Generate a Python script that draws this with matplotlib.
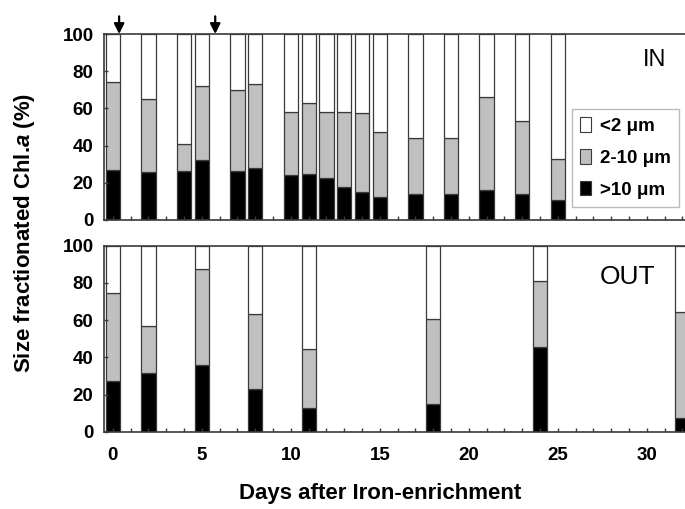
import numpy as np
import matplotlib
matplotlib.use('Agg')
import matplotlib.pyplot as plt
from matplotlib.patches import Patch
from matplotlib.ticker import MultipleLocator

plt.rcParams['font.family'] = ['Liberation Sans', 'DejaVu Sans']
plt.rcParams['mathtext.fontset'] = 'custom'
plt.rcParams['mathtext.it'] = 'Liberation Sans:italic:bold'
plt.rcParams['mathtext.rm'] = 'Liberation Sans:bold'

# Inside patch (days after enrichment, % of Chl.a)
in_days = [0, 2, 4, 5, 7, 8, 10, 11, 12, 13, 14, 15, 17, 19, 21, 23, 25]
in_gt10 = [27, 26, 26.5, 32, 26.5, 28, 24, 25, 22.5, 18, 15, 12.5, 14, 14, 16, 14, 11]
in_2to10 = [47, 39, 14.5, 40, 43.5, 45, 34, 38, 35.5, 40, 42.5, 35, 30, 30, 50, 39, 22]

# Outside patch
out_days = [0, 2, 5, 8, 11, 18, 24, 32]
out_gt10 = [27, 31.5, 36, 23, 12.5, 15, 45.5, 7.5]
out_2to10 = [47.5, 25.5, 51.5, 40.5, 32, 45.5, 35.5, 57]

arrow_days = [0.35, 5.75]

fig = plt.figure(figsize=(6.85, 5.09), dpi=100)
ax1 = fig.add_axes([104/685, 1-220/509, 1-104/685, 186/509])
ax2 = fig.add_axes([104/685, 1-431.7/509, 1-104/685, 186/509])

edge = '#3a3a3a'
bw = 0.8

def draw_bars(ax, days, big, mid):
    big = np.array(big)
    mid = np.array(mid)
    small = 100 - big - mid
    ax.bar(days, big, bw, color='black', edgecolor=edge, linewidth=0.9)
    ax.bar(days, mid, bw, bottom=big, color='#c0c0c0', edgecolor=edge, linewidth=0.9)
    ax.bar(days, small, bw, bottom=big + mid, color='white', edgecolor=edge, linewidth=0.9)
    ax.set_xlim(-0.5, 32.15)
    ax.set_ylim(0, 100)
    ax.set_yticks([0, 20, 40, 60, 80, 100])
    ax.xaxis.set_major_locator(MultipleLocator(5))
    ax.xaxis.set_minor_locator(MultipleLocator(1))
    ax.tick_params(axis='both', which='both', direction='in', length=3, width=1,
                   color=edge, labelsize=13.5)
    ax.tick_params(axis='y', pad=7.5)
    ax.tick_params(axis='x', pad=11)
    ax.tick_params(top=False, right=False)
    for s in ['left', 'top', 'bottom']:
        ax.spines[s].set_color(edge)
        ax.spines[s].set_linewidth(1.2)
    ax.spines['right'].set_visible(False)

draw_bars(ax1, in_days, in_gt10, in_2to10)
draw_bars(ax2, out_days, out_gt10, out_2to10)
ax1.tick_params(labelbottom=False)
for lab in ax2.get_xticklabels() + ax2.get_yticklabels() + ax1.get_yticklabels():
    lab.set_fontweight('bold')

for d in arrow_days:
    ax1.annotate('', xy=(d, 100), xytext=(d, 109.5), annotation_clip=False,
                 arrowprops=dict(arrowstyle='-|>,head_width=0.3,head_length=0.6',
                                 color='black', lw=1.6, shrinkA=0, shrinkB=0))

ax1.text(655/685, 1-60/509, 'IN', transform=fig.transFigure, fontsize=17,
         ha='center', va='center')
ax2.text(628/685, 1-276.7/509, 'OUT', transform=fig.transFigure, fontsize=19,
         ha='center', va='center')

handles = [Patch(facecolor='white', edgecolor=edge, linewidth=0.8),
           Patch(facecolor='#c0c0c0', edgecolor=edge, linewidth=0.8),
           Patch(facecolor='black', edgecolor=edge, linewidth=0.8)]
labels = ['<2 \u03bcm', '2-10 \u03bcm', '>10 \u03bcm']
leg = fig.legend(handles, labels, loc='upper left', bbox_to_anchor=(572/685, 1-109/509),
                 frameon=True, fancybox=False, edgecolor='#bbbbbb', framealpha=1,
                 handlelength=0.55, handleheight=0.8, handletextpad=0.5,
                 labelspacing=0.75, borderpad=0.45, borderaxespad=0,
                 prop={'weight': 'bold', 'size': 13.5})
leg.get_frame().set_linewidth(1.0)

fig.text(25/685, 1-233/509, 'Size fractionated Chl.$a$ (%)', rotation=90,
         ha='center', va='center', fontsize=16, fontweight='bold')
fig.text(380/685, 1-493/509, 'Days after Iron-enrichment', ha='center', va='center',
         fontsize=16, fontweight='bold')

fig.savefig('out.png', dpi=100)
